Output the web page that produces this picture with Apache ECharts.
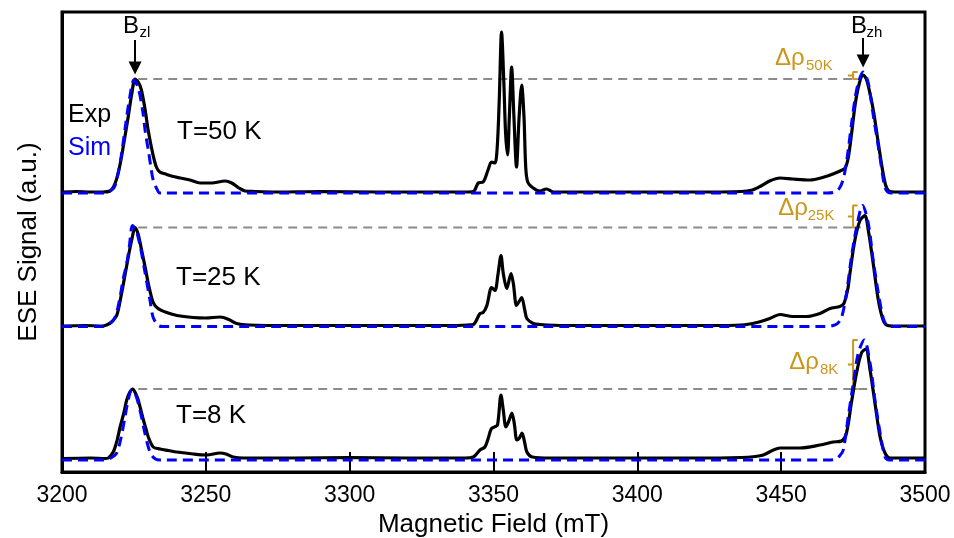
<!DOCTYPE html>
<html><head><meta charset="utf-8">
<script src="https://cdn.jsdelivr.net/npm/echarts@6/dist/echarts.min.js"></script>
<style>html,body{margin:0;padding:0;background:#fff}#c{width:954px;height:538px}</style>
</head><body><div id="c"></div>
<script>
// ---- data (field in mT, signal in a.u. above each trace baseline) ----
const xTicks = [3200, 3250, 3300, 3350, 3400, 3450, 3500];
const tempLabels = ['T=50 K', 'T=25 K', 'T=8 K'];
const deltaSubs = ['50K', '25K', '8K'];
const offsets = [279, 145.5, 12];
const grayStart = 3226.5;
const grayEnd = [3475.0, 3477.7, 3480.2];
const bracketField = 3475.0;

const exp50 = [[3200,1],[3205,1.5],[3210,1],[3214,1],[3216.7,2],[3218.5,10],[3220,26],[3221.5,50],[3223,76],[3224.3,100],[3225.4,114],[3226.5,111],[3227.5,104],[3228.8,85],[3230,62],[3231.5,40],[3232.8,26],[3234,21],[3236,19],[3238,17],[3241,15],[3244.5,13],[3248,10],[3252,10],[3256.7,12],[3259,10],[3261.5,5],[3263.6,2],[3267,1.5],[3275,1],[3290,1.5],[3310,1],[3330,1],[3340,1],[3343,1.5],[3344.7,10],[3346.4,11],[3348.1,23],[3349.3,31],[3350.5,30],[3351.3,46],[3352,93],[3352.8,161],[3353.6,110],[3354.2,60],[3354.9,38],[3355.5,76],[3356.3,126],[3357.1,76],[3358,26],[3358.9,76],[3359.8,108],[3360.6,76],[3361.2,26],[3361.9,11],[3363.8,5],[3366.1,2],[3368.4,4],[3370.8,1],[3380,1],[3400,1],[3420,1],[3436,1.5],[3440,3],[3443,7],[3446,12],[3449.6,15],[3454,14],[3460,13],[3465,16],[3468,19],[3470.5,22],[3472.2,25],[3473.3,35],[3474.5,60],[3475.8,90],[3477.2,110],[3478.5,118],[3479.6,114],[3481,98],[3482.2,80],[3483.5,55],[3485,27],[3486.3,8],[3487.5,2],[3490,1],[3500,1]];
const sim50 = [[3200,0],[3214,0],[3216,1],[3218,5],[3219,13],[3220.5,35],[3222,66],[3223.5,95],[3225,113],[3226.5,105],[3228,83],[3229,60],[3230,43],[3231,24],[3231.7,13],[3233,4],[3234,0],[3300,0],[3400,0],[3466,0],[3468.7,1],[3470.3,5],[3471.5,13],[3472.5,27],[3473.3,43],[3474.5,70],[3475.6,93],[3476.8,110],[3478.5,121],[3480,113],[3481,98],[3482.1,76],[3483.3,55],[3484.5,33],[3485.3,17],[3486,6],[3487,1],[3488,0],[3500,0]];

const exp25 = [[3200,0.5],[3208,1],[3214,0.5],[3215.5,1.5],[3217,4],[3219,11],[3220.5,30],[3222,53],[3223.2,72],[3224.2,86],[3225.4,99],[3226.5,92],[3227.7,76],[3229,58],[3230,43],[3231.7,24],[3233.4,18],[3236.4,14],[3240,11],[3245.6,9],[3250,8.5],[3255,9.5],[3258,7],[3260.7,3],[3265,1.5],[3280,1],[3300,1],[3320,1],[3335,1],[3341,1.5],[3343,2],[3345.3,13],[3346.4,14],[3347.7,21],[3348.8,36],[3349.3,39],[3350.5,36],[3351.6,53],[3352.6,71],[3353.4,53],[3354.6,38],[3356.1,53],[3356.9,43],[3358,21],[3358.9,25],[3359.8,29],[3360.9,16],[3361.6,8],[3363.8,3],[3366,2],[3375,1],[3400,1],[3425,1],[3436,1.5],[3441.6,4],[3446,8],[3449.6,12],[3454,10],[3458.8,10],[3463.5,13],[3467,18],[3470.4,20],[3471.8,23],[3473.2,38],[3473.9,53],[3475.6,86],[3477.4,106],[3479.1,111],[3480.3,96],[3482,63],[3483.8,26],[3485.5,6],[3487,1],[3490,0.5],[3500,0.5]];
const sim25 = [[3200,0],[3214,0],[3215.5,1],[3217.8,6],[3219,14],[3220.2,30],[3221.3,48],[3222.5,63],[3223.4,80],[3224.5,101],[3225.8,96],[3227.2,80],[3228.8,55],[3230.6,26],[3231.7,9],[3233.5,1],[3235,0],[3466,0],[3468.1,1],[3469.6,3],[3471,9],[3472.7,33],[3474.4,69],[3476.2,99],[3478.3,121],[3480.3,103],[3482,66],[3483.8,33],[3485.5,8],[3486.7,1],[3488,0],[3500,0]];

const exp8 = [[3200,1.5],[3210,2],[3215,1.5],[3216.1,2],[3217.8,8],[3219,18],[3220.2,33],[3221.5,47],[3222.5,60],[3223.6,68],[3224.6,71],[3225.5,67],[3226.5,60],[3227.4,50],[3228.3,40],[3229.2,31],[3230,23],[3231.7,13],[3234.1,11],[3237,9.5],[3239.9,8],[3245.6,6],[3250.3,5],[3254.9,7],[3257,6],[3259.5,3],[3263,2],[3280,2],[3300,2.5],[3320,2],[3340,2],[3343,3],[3345.3,10],[3347,13],[3348.2,22],[3349.2,31],[3350.3,33],[3351.4,35],[3352.6,65],[3353.4,50],[3354.3,33],[3355.2,38],[3356.4,47],[3357.3,35],[3358.1,20],[3359,22],[3359.9,27],[3360.8,18],[3361.6,8],[3363.5,3],[3370,2],[3400,2],[3420,2],[3436,2.5],[3441,3.5],[3443.8,5],[3447.3,10],[3449.6,12],[3456.5,12],[3463.5,15],[3468.1,18],[3471,19],[3472.7,27],[3474.4,57],[3476.2,87],[3477.9,107],[3479.4,111],[3480.9,90],[3482.6,57],[3484.4,23],[3486.1,7],[3487.8,2],[3500,2]];
const sim8 = [[3200,0],[3215,0],[3217,2],[3219,7],[3220.5,22],[3221.9,43],[3223,60],[3224.2,70],[3225.5,66],[3227.1,50],[3228.8,27],[3230,13],[3231.1,5],[3232.5,1],[3234,0],[3466,0],[3468.7,0.5],[3470.3,4],[3471.6,10],[3473.3,43],[3475.1,77],[3476.8,107],[3478.9,120],[3480.9,97],[3482.6,60],[3484.4,27],[3486.1,3],[3487.5,0],[3500,0]];

const expTraces = [exp50, exp25, exp8];
const simTraces = [sim50, sim25, sim8];

// ---- build ----
const GOLD = '#C9971C';
const FONT = 'Liberation Sans, Arial, sans-serif';
function peak(arr, lo, hi) {
  let best = null;
  arr.forEach(p => { if (p[0] >= lo && p[0] <= hi && (!best || p[1] > best[1])) best = p; });
  return best;
}
const series = [];
for (let i = 0; i < 3; i++) {
  const off = offsets[i];
  const lvl = off + peak(expTraces[i], 3200, 3300)[1];
  const simTop = off + peak(simTraces[i], 3400, 3500)[1];
  series.push({
    type: 'line', silent: true, symbol: 'none', z: 1,
    data: [[grayStart, lvl], [grayEnd[i], lvl]],
    lineStyle: { color: '#8c8c8c', width: 2, type: [9, 6] }
  });
  const bl = bracketField - 1.8, br = bracketField + 1.6, mid = (lvl + simTop) / 2;
  series.push({
    type: 'line', silent: true, symbol: 'none', z: 2,
    data: [[br, simTop], [bracketField, simTop], [bracketField, mid], [bl, mid], [bracketField, mid], [bracketField, lvl], [br, lvl]],
    lineStyle: { color: GOLD, width: 2 }
  });
  series.push({
    type: 'line', silent: true, symbol: 'none', z: 3, smooth: 0.3,
    data: expTraces[i].map(p => [p[0], p[1] + off]),
    lineStyle: { color: '#000', width: 3.2 }
  });
  series.push({
    type: 'line', silent: true, symbol: 'none', z: 4, smooth: 0.3,
    data: simTraces[i].map(p => [p[0], p[1] + off]),
    lineStyle: { color: '#0000ff', width: 3, type: [10, 6] }
  });
}
// arrows for Bzl and Bzh (from 50K trace)
const bzl = peak(exp50, 3200, 3300), bzh = peak(sim50, 3400, 3500);
series.push({
  type: 'line', silent: true, symbol: 'none', data: [], z: 5,
  markLine: {
    silent: true, animation: false, symbol: ['none', 'triangle'], symbolSize: [13, 13],
    label: { show: false },
    lineStyle: { color: '#000', width: 2, type: 'solid' },
    data: [
      [{ coord: [bzl[0], offsets[0] + 153] }, { coord: [bzl[0], offsets[0] + bzl[1] + 11] }],
      [{ coord: [bzh[0], offsets[0] + 155] }, { coord: [bzh[0], offsets[0] + bzh[1] + 11] }]
    ]
  }
});

function txt(x, y, text, size, color) {
  return { type: 'text', x: x, y: y, silent: true, z: 100,
    style: { text: text, fontSize: size, fontFamily: FONT, fill: color || '#000', align: 'left', verticalAlign: 'middle' } };
}
const tempPos = [[177, 131.7], [176, 277.8], [176, 416.3]];
const deltaPos = [[775, 58.4, 806, 65.8], [778.3, 208.4, 807.7, 215.5], [789.3, 362.7, 820, 369.8]];
const graphics = [
  txt(123, 26, 'B', 24), txt(139.5, 32.8, 'zl', 15),
  txt(851, 25.9, 'B', 24), txt(866.5, 33.1, 'zh', 15),
  txt(68, 115.3, 'Exp', 25), txt(68, 148.5, 'Sim', 25, '#0000ff')
];
for (let i = 0; i < 3; i++) {
  graphics.push(txt(tempPos[i][0], tempPos[i][1], tempLabels[i], 26));
  graphics.push(txt(deltaPos[i][0], deltaPos[i][1], 'Δρ', 24, GOLD));
  graphics.push(txt(deltaPos[i][2], deltaPos[i][3], deltaSubs[i], 15, GOLD));
}

const chart = echarts.init(document.getElementById('c'), null, { renderer: 'canvas' });
chart.setOption({
  animation: false,
  backgroundColor: '#fff',
  grid: { left: 62, right: 29, top: 12, bottom: 66, show: true, borderColor: '#000', borderWidth: 3, backgroundColor: 'transparent', containLabel: false, outerBoundsMode: 'none' },
  xAxis: {
    type: 'value', min: xTicks[0], max: xTicks[xTicks.length - 1], interval: 50,
    name: 'Magnetic Field (mT)', nameLocation: 'middle', nameGap: 39,
    nameTextStyle: { fontSize: 26, fontFamily: FONT, color: '#000' },
    axisLine: { show: true, lineStyle: { color: '#000', width: 3 } },
    axisTick: { show: true, inside: true, length: 20, lineStyle: { color: '#000', width: 2 } },
    axisLabel: { fontSize: 23, fontFamily: FONT, color: '#000', margin: 12, formatter: v => String(v), hideOverlap: false },
    splitLine: { show: false }
  },
  yAxis: {
    type: 'value', min: 0, max: 460,
    name: 'ESE Signal (a.u.)', nameLocation: 'middle', nameGap: 20,
    nameTextStyle: { fontSize: 26, fontFamily: FONT, color: '#000' },
    axisLine: { show: true, lineStyle: { color: '#000', width: 3 } },
    axisTick: { show: false }, axisLabel: { show: false }, splitLine: { show: false }
  },
  series: series,
  graphic: graphics
});
</script></body></html>
